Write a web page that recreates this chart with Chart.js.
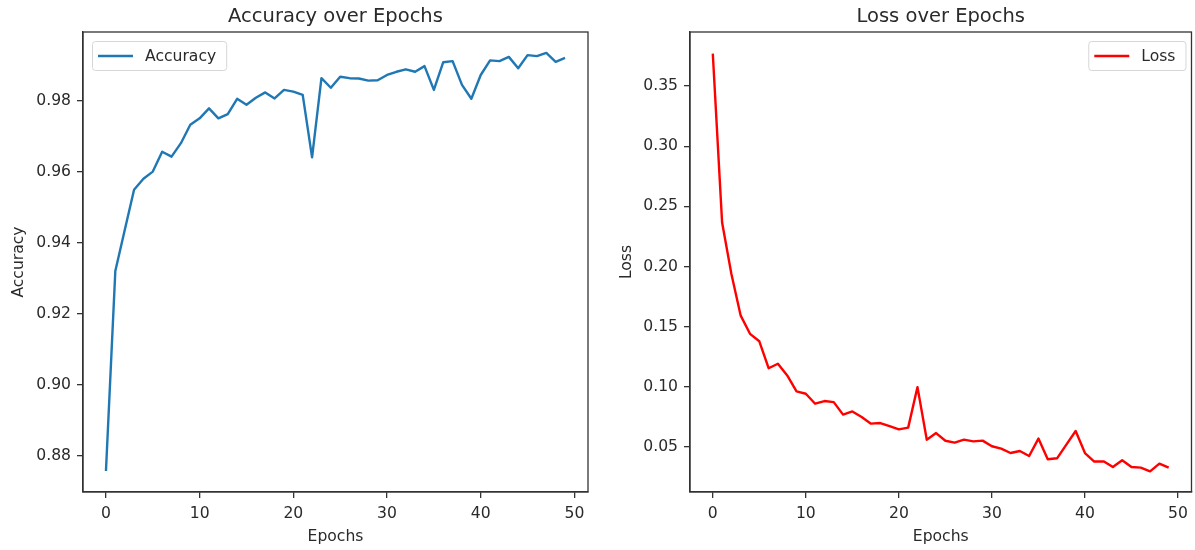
<!DOCTYPE html>
<html>
<head>
<meta charset="utf-8">
<script src="https://cdn.jsdelivr.net/npm/chart.js@4.4.1/dist/chart.umd.min.js"></script>
<style>
  html, body { margin: 0; padding: 0; background: #ffffff; overflow: hidden; }
  #wrap { position: relative; width: 1195px; height: 550px; }
  canvas { position: absolute; top: 0; }
  #c1 { left: 0; }
  #c2 { left: 598px; }
</style>
</head>
<body>
<div id="wrap">
  <canvas id="c1" width="600" height="550"></canvas>
  <canvas id="c2" width="597" height="550"></canvas>
</div>
<script>
// ---- data ----
const epochs = [0,1,2,3,4,5,6,7,8,9,10,11,12,13,14,15,16,17,18,19,20,21,22,23,24,
                25,26,27,28,29,30,31,32,33,34,35,36,37,38,39,40,41,42,43,44,45,46,47,48,49];

const accuracy = [0.8758,0.9321,0.9436,0.9550,0.9581,0.9601,0.9657,0.9643,0.9681,0.9733,
                  0.9751,0.9779,0.9751,0.9763,0.9806,0.9789,0.9809,0.9824,0.9807,0.9831,
                  0.9826,0.9817,0.9641,0.9864,0.9837,0.9868,0.9864,0.9863,0.9857,0.9858,
                  0.9873,0.9882,0.9889,0.9882,0.9898,0.9831,0.9909,0.9912,0.9845,0.9806,
                  0.9873,0.9914,0.9912,0.9924,0.9892,0.9929,0.9926,0.9935,0.9910,0.9921];

const loss = [0.3770,0.2366,0.1938,0.1592,0.1441,0.1379,0.1155,0.1192,0.1095,0.0962,
              0.0943,0.0860,0.0882,0.0873,0.0769,0.0796,0.0749,0.0694,0.0699,0.0674,
              0.0647,0.0661,0.0998,0.0561,0.0616,0.0552,0.0536,0.0561,0.0547,0.0553,
              0.0506,0.0487,0.0450,0.0467,0.0425,0.0570,0.0398,0.0406,0.0520,0.0633,
              0.0450,0.0379,0.0381,0.0334,0.0390,0.0334,0.0329,0.0298,0.0362,0.0329];

const xTicks = [0, 10, 20, 30, 40, 50];
const accTicks = [0.88, 0.90, 0.92, 0.94, 0.96, 0.98];
const lossTicks = [0.05, 0.10, 0.15, 0.20, 0.25, 0.30, 0.35];

const titles = { acc: 'Accuracy over Epochs', loss: 'Loss over Epochs' };
const axisLabels = { x: 'Epochs', acc: 'Accuracy', loss: 'Loss' };

// ---- styling ----
const FONT = 'DejaVu Sans';
const TXT = '#2a2a2a';
const AX = '#333333';

const decor = {
  id: 'decor',
  afterDraw(chart, args, opts) {
    const { ctx, chartArea: a } = chart;
    ctx.save();
    // full frame (all four spines)
    ctx.strokeStyle = AX;
    ctx.lineWidth = 1.3;
    ctx.strokeRect(a.left, a.top, a.right - a.left, a.bottom - a.top);
    // title centred over the axes
    ctx.fillStyle = TXT;
    ctx.font = '19.5px "' + FONT + '"';
    ctx.textAlign = 'center';
    ctx.textBaseline = 'alphabetic';
    ctx.fillText(opts.title, (a.left + a.right) / 2, a.top - 10);
    // legend box
    const ds = chart.data.datasets[0];
    ctx.font = '15.6px "' + FONT + '"';
    const tw = ctx.measureText(ds.label).width;
    const w = 53 + tw + 10, h = 29;
    const x0 = opts.legendSide === 'left' ? a.left + 9 : a.right - 6 - w;
    const y0 = a.top + 9;
    ctx.beginPath();
    if (ctx.roundRect) ctx.roundRect(x0 + 0.5, y0 + 0.5, w, h, 3); else ctx.rect(x0 + 0.5, y0 + 0.5, w, h);
    ctx.fillStyle = 'rgba(255,255,255,0.85)';
    ctx.fill();
    ctx.strokeStyle = '#d6d6d6';
    ctx.lineWidth = 1;
    ctx.stroke();
    const cy = y0 + h / 2 + 0.5;
    ctx.beginPath();
    ctx.moveTo(x0 + 6, cy);
    ctx.lineTo(x0 + 41, cy);
    ctx.strokeStyle = ds.borderColor;
    ctx.lineWidth = 2.4;
    ctx.stroke();
    ctx.fillStyle = TXT;
    ctx.textAlign = 'left';
    ctx.textBaseline = 'middle';
    ctx.fillText(ds.label, x0 + 53, cy + 1);
    ctx.restore();
  }
};

function makeChart(canvasId, values, color, label, yTicks, yMin, yMax, yTitle, yWidth, yTitlePad, padRight, title, side) {
  const tickFont = { family: FONT, size: 15.6 };
  return new Chart(document.getElementById(canvasId), {
    type: 'line',
    data: {
      datasets: [{
        label: label,
        data: epochs.map((e, i) => ({ x: e, y: values[i] })),
        borderColor: color,
        backgroundColor: color,
        borderWidth: 2.4,
        pointRadius: 0,
        pointHoverRadius: 0,
        tension: 0,
        fill: false,
        borderJoinStyle: 'round'
      }]
    },
    options: {
      responsive: false,
      animation: false,
      devicePixelRatio: 1,
      events: [],
      layout: { padding: { left: 0, right: padRight, top: 32, bottom: 0 } },
      plugins: {
        legend: { display: false },
        title: { display: false },
        tooltip: { enabled: false },
        decor: { title: title, legendSide: side }
      },
      scales: {
        x: {
          type: 'linear',
          min: -2.45,
          max: 51.45,
          afterBuildTicks: s => { s.ticks = xTicks.map(v => ({ value: v })); },
          afterFit: s => { s.height = 58; },
          ticks: { font: tickFont, color: TXT, padding: 7, maxRotation: 0, autoSkip: false,
                   callback: v => String(v) },
          grid: { display: true, drawOnChartArea: false, drawTicks: true, tickLength: 6,
                  color: AX, lineWidth: 1.3 },
          border: { display: true, color: AX, width: 1.3 },
          title: { display: true, text: axisLabels.x, font: tickFont, color: TXT,
                   padding: { top: 0, bottom: 3.5 } }
        },
        y: {
          type: 'linear',
          min: yMin,
          max: yMax,
          afterBuildTicks: s => { s.ticks = yTicks.map(v => ({ value: v })); },
          afterFit: s => { s.width = yWidth; },
          ticks: { font: tickFont, color: TXT, padding: 6, autoSkip: false,
                   callback: v => Number(v).toFixed(2) },
          grid: { display: true, drawOnChartArea: false, drawTicks: true, tickLength: 6,
                  color: AX, lineWidth: 1.3 },
          border: { display: true, color: AX, width: 1.3 },
          title: { display: true, text: yTitle, font: tickFont, color: TXT,
                   padding: { top: yTitlePad, bottom: 0 } }
        }
      }
    },
    plugins: [decor]
  });
}

makeChart('c1', accuracy, '#1f77b4', 'Accuracy', accTicks, 0.8699, 0.9994,
          axisLabels.acc, 83, 9.5, 12, titles.acc, 'left');
makeChart('c2', loss, '#ff0000', 'Loss', lossTicks, 0.0126, 0.3950,
          axisLabels.loss, 92, 19.5, 3, titles.loss, 'right');
</script>
</body>
</html>
